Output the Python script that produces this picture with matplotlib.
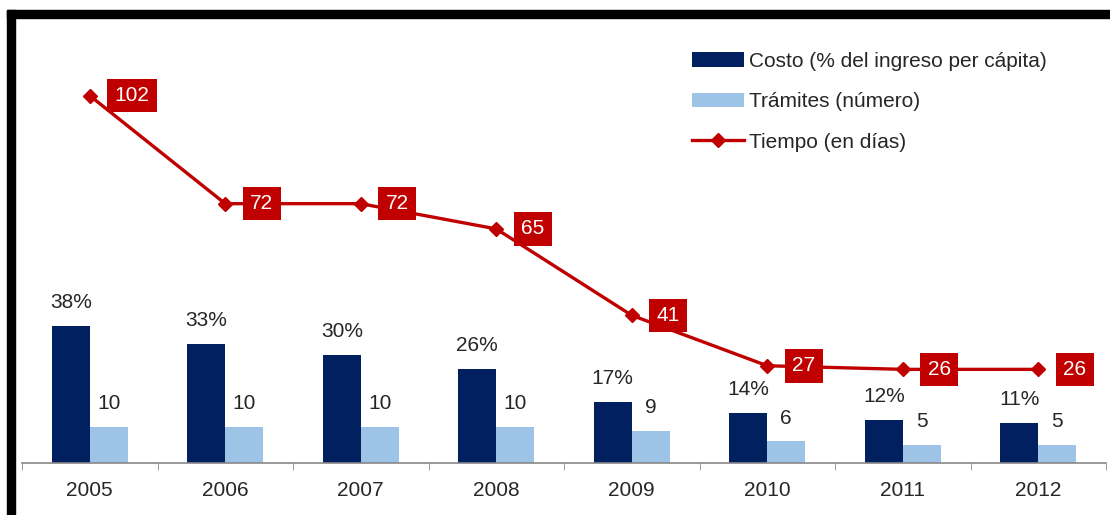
import numpy as np
import matplotlib.pyplot as plt
from matplotlib.patches import Rectangle

plt.rcParams['font.family'] = ['Liberation Sans', 'DejaVu Sans']

# data
years = ['2005', '2006', '2007', '2008', '2009', '2010', '2011', '2012']
costo = [38, 33, 30, 26, 17, 14, 12, 11]
tramites = [10, 10, 10, 10, 9, 6, 5, 5]
tiempo = [102, 72, 72, 65, 41, 27, 26, 26]

navy = '#002060'
light = '#9DC3E6'
red = '#C00000'
txt = '#262626'

fig = plt.figure(figsize=(11.1, 5.15), dpi=100)
ax = fig.add_axes([22/1110, 52/515, 1084/1110, 443/515])

x = np.arange(len(years))
w = 0.28
b1 = ax.bar(x - w/2, costo, w, color=navy, label='Costo (% del ingreso per cápita)')
b2 = ax.bar(x + w/2, tramites, w, color=light, label='Trámites (número)')
l1, = ax.plot(x, tiempo, color=red, lw=2.4, marker='D', markersize=7,
              label='Tiempo (en días)')

for i in range(len(x)):
    ax.annotate('%d%%' % costo[i], (x[i] - w/2, costo[i]), xytext=(0, 10),
                textcoords='offset points', ha='center', va='bottom',
                fontsize=15, color=txt)
    ax.annotate('%d' % tramites[i], (x[i] + w/2, tramites[i]), xytext=(0, 10),
                textcoords='offset points', ha='center', va='bottom',
                fontsize=15, color=txt)
    ax.annotate('%d' % tiempo[i], (x[i], tiempo[i]), xytext=(18, 0),
                textcoords='offset points', ha='left', va='center',
                fontsize=15, color='white',
                bbox=dict(boxstyle='square,pad=0.35', fc=red, ec='none'))

ax.set_xlim(-0.5, len(years) - 0.5)
ax.set_ylim(0, 123)
ax.set_xticks(x)
ax.set_xticklabels(years, fontsize=15, color=txt)
ax.set_xticks(np.arange(len(years) + 1) - 0.5, minor=True)
ax.tick_params(axis='x', which='major', length=0, pad=13)
ax.tick_params(axis='x', which='minor', length=5, color='#888888', direction='out')
ax.set_yticks([])
for s in ['top', 'left', 'right']:
    ax.spines[s].set_visible(False)
ax.spines['bottom'].set_color('#888888')
ax.spines['bottom'].set_linewidth(1.2)

leg = ax.legend([b1, b2, l1], [b1.get_label(), b2.get_label(), l1.get_label()],
                loc='upper left', bbox_to_anchor=(692/1110, 1 - 52/515),
                bbox_transform=fig.transFigure, frameon=False, fontsize=15,
                handlelength=2.5, handletextpad=0.25, labelspacing=1.02,
                borderaxespad=0, borderpad=0)
for t in leg.get_texts():
    t.set_color(txt)

# black frame on top and left
fig.patches.append(Rectangle((7/1110, 1 - 18/515), 1, 8/515, color='black',
                             transform=fig.transFigure, figure=fig))
fig.patches.append(Rectangle((7/1110, 0), 8/1110, 1 - 10/515, color='black',
                             transform=fig.transFigure, figure=fig))

plt.savefig('out.png', dpi=100)
